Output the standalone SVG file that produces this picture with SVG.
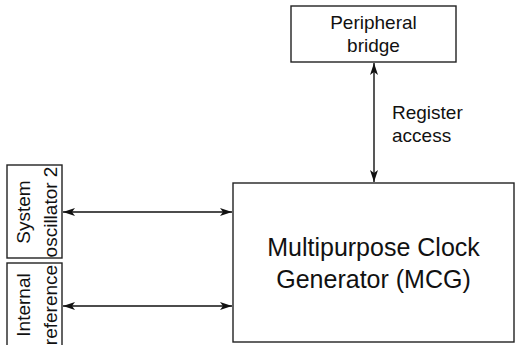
<svg xmlns="http://www.w3.org/2000/svg" width="516" height="345" viewBox="0 0 516 345">
<defs>
<style>
.box{fill:#fff;stroke:#222;stroke-width:1.4}
.lbl{font-family:"Liberation Sans",Arial,sans-serif;font-size:19px;fill:#111;text-anchor:middle}
.big{font-family:"Liberation Sans",Arial,sans-serif;font-size:25px;fill:#111;text-anchor:middle}
.conn{stroke:#111;stroke-width:1.4;fill:none;marker-start:url(#ah);marker-end:url(#ah)}
</style>
<marker id="ah" viewBox="0 0 12 8" refX="12" refY="4" markerWidth="12" markerHeight="8" markerUnits="userSpaceOnUse" orient="auto-start-reverse">
<path d="M0,0 L12,4 L0,8 L3,4 Z" fill="#111"/>
</marker>
</defs>
<rect width="516" height="345" fill="#fff"/>
<g id="peripheral-bridge">
<rect class="box" x="291" y="6" width="165" height="56"/>
<text class="lbl" x="373.5" y="29">Peripheral</text>
<text class="lbl" x="373.5" y="52">bridge</text>
</g>
<g id="mcg">
<rect class="box" x="233" y="183" width="281" height="159"/>
<text class="big" x="373.5" y="256">Multipurpose Clock</text>
<text class="big" x="373.5" y="288">Generator (MCG)</text>
</g>
<g id="system-oscillator-2">
<rect class="box" x="7" y="165" width="55" height="93"/>
<text class="lbl" transform="translate(29.5,212) rotate(-90)">System</text>
<text class="lbl" transform="translate(56.5,212) rotate(-90)">oscillator 2</text>
</g>
<g id="internal-reference">
<rect class="box" x="7" y="263" width="55" height="95"/>
<text class="lbl" transform="translate(29.5,305) rotate(-90)">Internal</text>
<text class="lbl" transform="translate(56.5,305) rotate(-90)">reference</text>
</g>
<g id="connectors">
<line class="conn" x1="374" y1="63" x2="374" y2="182"/>
<line class="conn" x1="63" y1="212" x2="232" y2="212"/>
<line class="conn" x1="63" y1="306" x2="232" y2="306"/>
<text class="lbl" x="392" y="119" style="text-anchor:start">Register</text>
<text class="lbl" x="392" y="142" style="text-anchor:start">access</text>
</g>
</svg>
